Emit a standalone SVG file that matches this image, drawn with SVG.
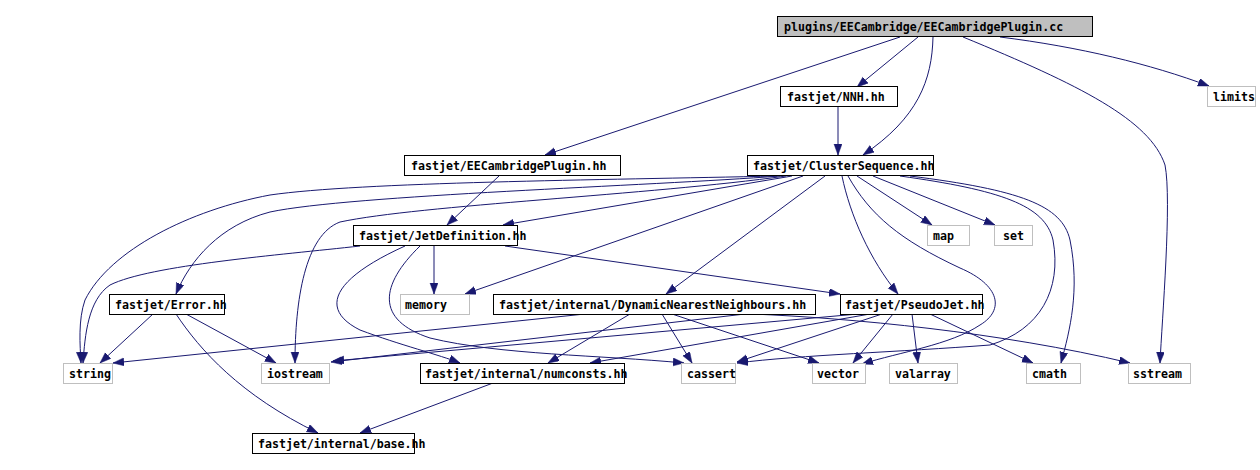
<svg xmlns="http://www.w3.org/2000/svg" width="1260" height="470" viewBox="0 0 1260 470">
<style>
.n rect{fill:#fff;stroke:#000;stroke-width:1}
.g rect{fill:#fff;stroke:#bfbfbf;stroke-width:1}
.root rect{fill:#bfbfbf;stroke:#000;stroke-width:1}
text{font-family:"DejaVu Sans Mono","Liberation Mono",monospace;font-weight:bold;font-size:11.6px;fill:#000}
#edges path{fill:none;stroke:#191970;stroke-width:1;marker-end:url(#arr)}
</style>
<defs>
<marker id="arr" markerUnits="userSpaceOnUse" markerWidth="12" markerHeight="9" refX="11" refY="4" orient="auto">
<path d="M0,0 L11,4 L0,8 z" fill="#191970" stroke="#191970" stroke-width="0.5"/>
</marker>
</defs>
<rect width="1260" height="470" fill="#fff"/>
<g id="edges">
<path d="M900,37 L545,155"/>
<path d="M918,37 L857,87"/>
<path d="M933,37 C932,80 918,118 863,155"/>
<path d="M963,37 C1080,85 1150,120 1165,165 C1172,200 1162,320 1160,363"/>
<path d="M1000,37 C1080,47 1150,64 1209,86"/>
<path d="M838,107 L838,155"/>
<path d="M499,176 L447,225"/>
<path d="M777,176 C600,180 360,182 270,195 C190,210 110,250 85,300 C78,320 80,345 81,363"/>
<path d="M780,176 C650,186 350,195 270,212 C220,225 190,260 176,294"/>
<path d="M786,176 C650,195 420,205 340,222 C305,235 295,300 295,363"/>
<path d="M792,176 L503,225"/>
<path d="M803,176 L465,294"/>
<path d="M825,176 L666,294"/>
<path d="M842,176 C850,215 870,260 898,294"/>
<path d="M848,176 C870,215 900,240 960,268 C1000,285 1005,310 980,325 C950,345 900,352 862,364"/>
<path d="M857,176 L932,225"/>
<path d="M873,176 L995,225"/>
<path d="M900,176 C1000,190 1045,205 1053,240 C1062,290 1040,330 990,345 C900,352 800,355 737,363"/>
<path d="M910,176 C1020,190 1062,205 1070,240 C1080,290 1070,330 1061,363"/>
<path d="M360,246 C280,255 150,265 110,285 C88,300 85,335 83,363"/>
<path d="M434,246 L434,294"/>
<path d="M405,246 C330,280 320,310 360,330 C400,345 440,355 460,363"/>
<path d="M420,246 C380,285 375,320 430,338 C500,355 600,355 684,363"/>
<path d="M505,246 L840,294"/>
<path d="M585,314 L113,363"/>
<path d="M745,314 L331,362"/>
<path d="M630,314 L548,363"/>
<path d="M662,314 L692,363"/>
<path d="M672,314 L819,363"/>
<path d="M752,314 C850,318 1000,332 1130,363"/>
<path d="M858,314 L333,361"/>
<path d="M870,314 L590,363"/>
<path d="M882,314 L737,362"/>
<path d="M893,314 L853,363"/>
<path d="M912,314 L918,363"/>
<path d="M930,314 L1033,363"/>
<path d="M153,314 L100,363"/>
<path d="M186,314 L276,363"/>
<path d="M176,314 C200,350 240,395 318,433"/>
<path d="M493,383 L360,433"/>
</g>
<g id="n_root" class="root"><rect x="777.5" y="16.5" width="315" height="20"/><text x="784" y="31">plugins/EECambridge/EECambridgePlugin.cc</text></g>
<g id="n_nnh" class="n"><rect x="780.5" y="86.5" width="117" height="20"/><text x="787" y="101">fastjet/NNH.hh</text></g>
<g id="n_limits" class="g"><rect x="1207.5" y="86.5" width="48" height="20"/><text x="1213" y="101">limits</text></g>
<g id="n_eecp" class="n"><rect x="404.5" y="155.5" width="216" height="20"/><text x="411" y="170">fastjet/EECambridgePlugin.hh</text></g>
<g id="n_cs" class="n"><rect x="747.5" y="155.5" width="186" height="20"/><text x="753" y="170">fastjet/ClusterSequence.hh</text></g>
<g id="n_jetdef" class="n"><rect x="353.5" y="225.5" width="164" height="20"/><text x="359" y="240">fastjet/JetDefinition.hh</text></g>
<g id="n_map" class="g"><rect x="927.5" y="225.5" width="42" height="20"/><text x="933" y="240">map</text></g>
<g id="n_set" class="g"><rect x="994.5" y="225.5" width="38" height="20"/><text x="1003" y="240">set</text></g>
<g id="n_error" class="n"><rect x="109.5" y="294.5" width="115" height="20"/><text x="115" y="309">fastjet/Error.hh</text></g>
<g id="n_memory" class="g"><rect x="400.5" y="294.5" width="69" height="20"/><text x="405" y="309">memory</text></g>
<g id="n_dnn" class="n"><rect x="493.5" y="294.5" width="322" height="20"/><text x="499" y="309">fastjet/internal/DynamicNearestNeighbours.hh</text></g>
<g id="n_pj" class="n"><rect x="840.5" y="294.5" width="142" height="20"/><text x="845" y="309">fastjet/PseudoJet.hh</text></g>
<g id="n_string" class="g"><rect x="63.5" y="363.5" width="49" height="20"/><text x="69" y="378">string</text></g>
<g id="n_iostream" class="g"><rect x="261.5" y="363.5" width="68" height="20"/><text x="267" y="378">iostream</text></g>
<g id="n_numconsts" class="n"><rect x="420.5" y="363.5" width="204" height="20"/><text x="425" y="378">fastjet/internal/numconsts.hh</text></g>
<g id="n_cassert" class="g"><rect x="681.5" y="363.5" width="54" height="20"/><text x="687" y="378">cassert</text></g>
<g id="n_vector" class="g"><rect x="812.5" y="363.5" width="53" height="20"/><text x="817" y="378">vector</text></g>
<g id="n_valarray" class="g"><rect x="889.5" y="363.5" width="68" height="20"/><text x="895" y="378">valarray</text></g>
<g id="n_cmath" class="g"><rect x="1026.5" y="363.5" width="54" height="20"/><text x="1032" y="378">cmath</text></g>
<g id="n_sstream" class="g"><rect x="1128.5" y="363.5" width="62" height="20"/><text x="1133" y="378">sstream</text></g>
<g id="n_base" class="n"><rect x="252.5" y="433.5" width="162" height="20"/><text x="258" y="448">fastjet/internal/base.hh</text></g>
</svg>
